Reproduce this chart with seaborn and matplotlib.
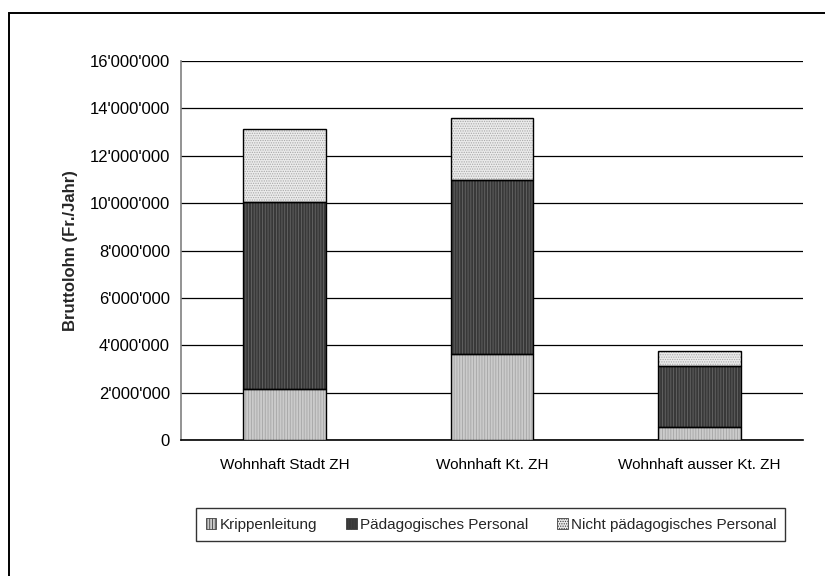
import pandas as pd
import seaborn as sns
import matplotlib.pyplot as plt
from matplotlib.patches import Rectangle, Patch
from matplotlib.ticker import FuncFormatter, MultipleLocator

# Daten (Fr./Jahr)
wohnorte = ["Wohnhaft Stadt ZH", "Wohnhaft Kt. ZH", "Wohnhaft ausser Kt. ZH"]
krippenleitung = [2140000, 3640000, 530000]
paedagogisch = [7890000, 7330000, 2590000]
nicht_paedagogisch = [3100000, 2630000, 640000]
serien = ["Krippenleitung", "Pädagogisches Personal", "Nicht pädagogisches Personal"]

df = pd.DataFrame({
    "Wohnort": wohnorte,
    serien[0]: krippenleitung,
    serien[1]: paedagogisch,
    serien[2]: nicht_paedagogisch,
})

sns.set_style("white")
plt.rcParams["font.family"] = ["Liberation Sans", "DejaVu Sans"]
plt.rcParams["hatch.linewidth"] = 0.6

# Füllfarbe, Musterfarbe, Muster
stile = {
    serien[0]: ("#cbcbcb", "#a5a5a5", "||||||"),
    serien[1]: ("#383838", "#666666", "||||||"),
    serien[2]: ("#ebebeb", "#a8a8a8", "......."),
}

fig = plt.figure(figsize=(8.25, 5.76), dpi=100)
ax = fig.add_axes([0.2194, 0.2361, 0.9733 - 0.2194, 0.894 - 0.2361])

unten = pd.Series([0.0] * len(df))
for s in serien:
    fc, hc, hatch = stile[s]
    sns.barplot(data=df, x="Wohnort", y=s, bottom=unten.values, color=fc,
                width=0.4, saturation=1, ax=ax, hatch=hatch, edgecolor=hc,
                linewidth=0, zorder=3)
    # Rahmen separat zeichnen
    ax.bar(range(len(df)), df[s], bottom=unten.values, width=0.4,
           fill=False, edgecolor="black", linewidth=1.0, zorder=4)
    unten = unten + df[s]

ax.set_xlim(-0.5, 2.5)
ax.set_ylim(0, 16000000)
ax.yaxis.set_major_locator(MultipleLocator(2000000))
ax.yaxis.set_major_formatter(FuncFormatter(lambda v, p: f"{int(v):,}".replace(",", "'")))
ax.grid(axis="y", color="black", linewidth=0.9, zorder=0)
ax.grid(axis="x", visible=False)

ax.set_xticks([-0.5, 0.5, 1.5, 2.5], minor=False)
ax.set_xticklabels([])
ax.set_xticks([0, 1, 2], minor=True)
ax.set_xticklabels(wohnorte, minor=True)
ax.tick_params(axis="x", which="major", direction="out", length=5, width=1, color="black")
ax.tick_params(axis="x", which="minor", length=0, labelsize=11, pad=13)
ax.tick_params(axis="y", direction="out", length=5, width=1, color="black", labelsize=12, pad=3)
for l in ax.get_xticklabels(minor=True) + ax.get_yticklabels():
    l.set_color("black")

ax.set_xlabel("")
ax.set_ylabel("Bruttolohn (Fr./Jahr)", fontsize=12, fontweight="bold", labelpad=8)

for side in ["top", "right"]:
    ax.spines[side].set_visible(False)
ax.spines["left"].set_color("#808080")
ax.spines["left"].set_linewidth(1.2)
ax.spines["bottom"].set_color("black")
ax.spines["bottom"].set_linewidth(1.2)

handles = []
for s in serien:
    fc, hc, hatch = stile[s]
    handles.append(Patch(facecolor=fc, edgecolor="#404040", hatch=hatch, linewidth=0.6))
leg = fig.legend(handles, serien, loc="center", bbox_to_anchor=(0.595, 0.0894),
                 ncol=3, fontsize=11, frameon=True, fancybox=False,
                 handlelength=0.7, handleheight=0.7, handletextpad=0.2,
                 columnspacing=1.9, borderpad=0.6)
leg.get_frame().set_edgecolor("black")
leg.get_frame().set_linewidth(1.0)

# Rahmen um die ganze Grafik (rechts und unten abgeschnitten)
fig.patches.append(Rectangle((8.7 / 825, -0.1), 1.1, 1.1 - 12.7 / 576,
                             transform=fig.transFigure, fill=False,
                             edgecolor="black", linewidth=1.4))

fig.savefig("out.png", dpi=100)
plt.close(fig)
